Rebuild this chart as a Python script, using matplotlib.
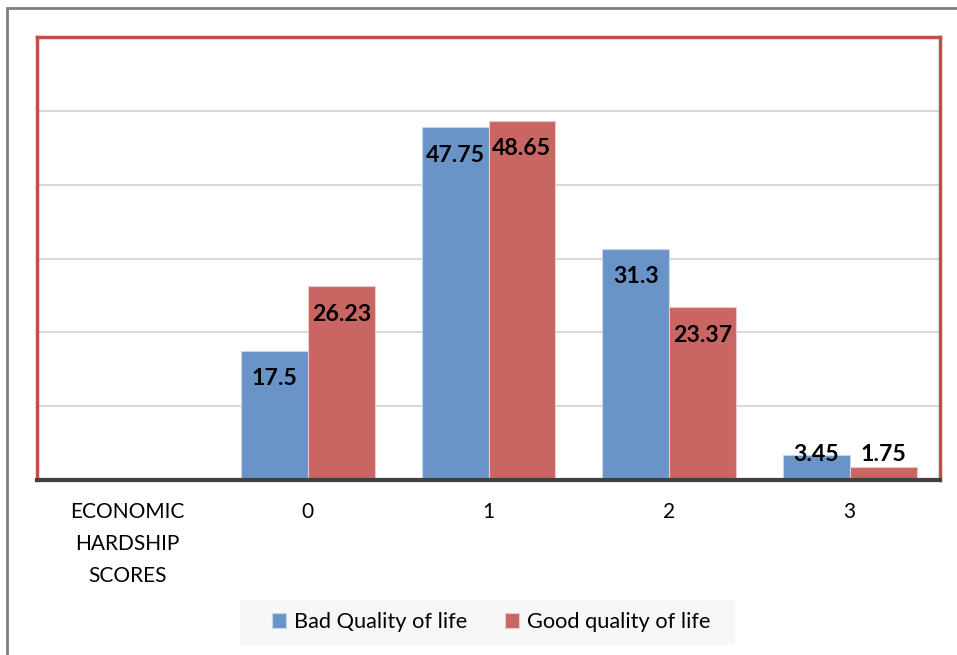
import numpy as np
import matplotlib.pyplot as plt
from matplotlib.patches import Rectangle

plt.rcParams['font.family'] = ['Lato', 'DejaVu Sans']

# categories and series values
categories = ['ECONOMIC\nHARDSHIP\nSCORES', '0', '1', '2', '3']
bad_quality = [np.nan, 17.5, 47.75, 31.3, 3.45]
good_quality = [np.nan, 26.23, 48.65, 23.37, 1.75]
series_names = ['Bad Quality of life', 'Good quality of life']

blue = '#6a94c8'
red = '#c96663'

fig = plt.figure(figsize=(9.57, 6.55), dpi=100)
ax = fig.add_axes([37 / 957, 1 - 480 / 655, 903 / 957, 443 / 655])

# outer frame (only left and top visible)
fig.patches.append(Rectangle((7 / 957, -0.1), 1.1, 1 - 8 / 655 + 0.1,
                             transform=fig.transFigure, fill=False,
                             edgecolor='#7f7f7f', linewidth=2))

x = np.arange(len(categories))
w = 0.37
ax.bar(x - w / 2, bad_quality, w, color=blue, edgecolor='#c9d6ea', linewidth=0.8,
       label=series_names[0], zorder=3)
ax.bar(x + w / 2, good_quality, w, color=red, edgecolor='#ecc9c8', linewidth=0.8,
       label=series_names[1], zorder=3)

# value labels, inside end of each bar
for xs, vals in ((x - w / 2, bad_quality), (x + w / 2, good_quality)):
    for xi, v in zip(xs, vals):
        if np.isnan(v):
            continue
        ax.text(xi, max(v - 3.8, 3.4), f'{v:g}', ha='center', va='center',
                fontsize=16.7, fontweight='bold', color='black', zorder=4)

ax.set_xlim(-0.5, len(categories) - 0.5)
ax.set_ylim(0, 60)
ax.set_yticks(np.arange(0, 61, 10))
ax.yaxis.grid(True, color='#d9d9d9', linewidth=1.5, zorder=0)
ax.tick_params(axis='y', length=0, labelleft=False)
ax.tick_params(axis='x', length=0, pad=16, labelsize=15)
ax.set_xticks(x)
ax.set_xticklabels(categories, linespacing=1.73, va='top')

for side in ('left', 'right', 'top'):
    ax.spines[side].set_color('#c0504d')
    ax.spines[side].set_linewidth(2.5)
ax.spines['bottom'].set_color('#404040')
ax.spines['bottom'].set_linewidth(3)
ax.spines['bottom'].set_zorder(5)

# legend with a light panel behind it
fig.patches.append(Rectangle((240 / 957, 1 - 645 / 655), 495 / 957, 45 / 655,
                             transform=fig.transFigure, facecolor='#f7f7f7',
                             edgecolor='none', zorder=0))
fig.legend(loc='center', bbox_to_anchor=(491 / 957, 1 - 622 / 655), ncol=2,
           fontsize=15.7, frameon=False, handlelength=0.65, handleheight=0.65,
           handletextpad=0.35, columnspacing=1.75)

fig.savefig('out.png', dpi=100)
